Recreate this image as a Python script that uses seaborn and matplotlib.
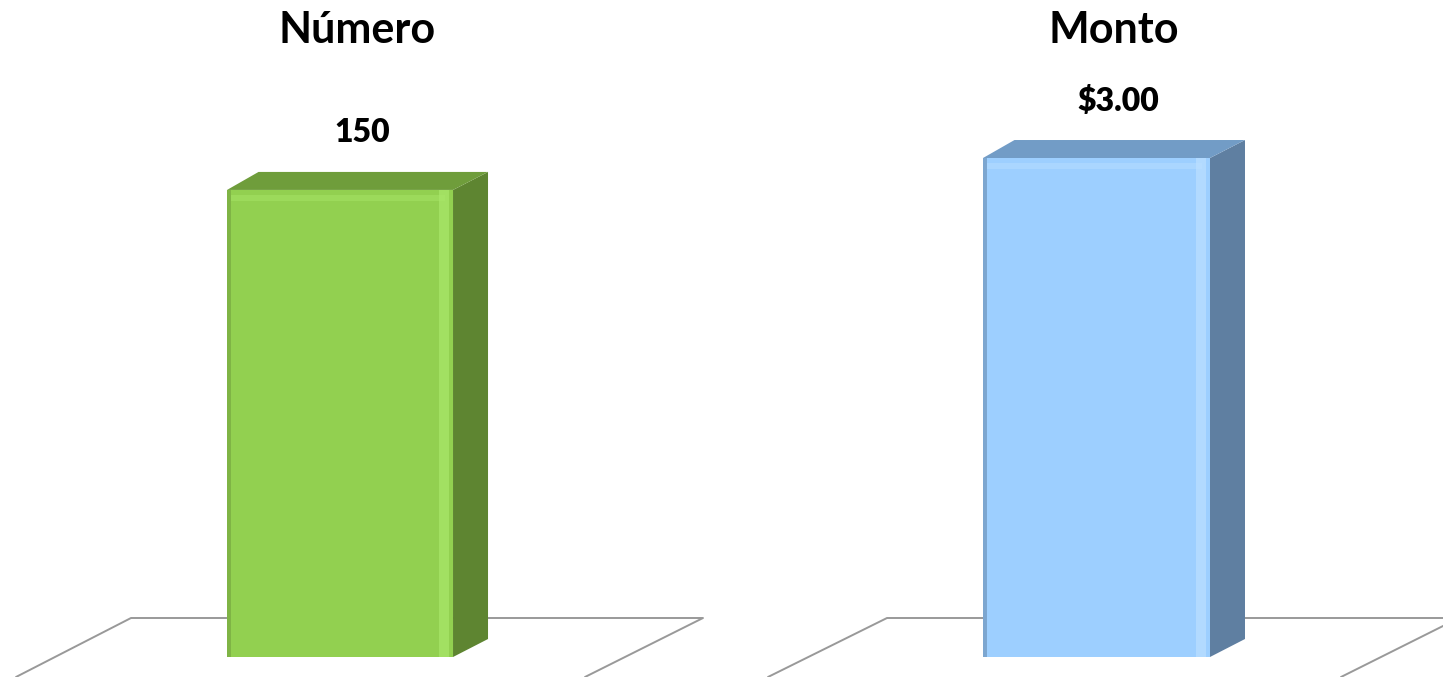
import matplotlib
matplotlib.use("Agg")
import matplotlib.pyplot as plt
import seaborn as sns
import pandas as pd
from matplotlib.patches import Polygon, Rectangle
from matplotlib.lines import Line2D

# ---- data ----
panel_titles = ["Número", "Monto"]
categories = ["Total"]
numero_values = [150]
monto_values = [3.00]
value_labels = ["150", "$3.00"]
ymax_values = [211.0, 3.95]

front_colors = ["#92D050", "#9DCFFF"]
side_colors = ["#5E8531", "#5F7FA1"]
top_colors = ["#6F9D3B", "#729CC6"]
light_colors = ["#AAE86A", "#BCE0FF"]
dark_edge = ["#6E9A3C", "#5C7EA3"]

W, H = 1443, 677
DPI = 100
sns.set_theme(style="white")
plt.rcParams["font.family"] = ["Lato", "DejaVu Sans"]

fig = plt.figure(figsize=(W / DPI, H / DPI), dpi=DPI)
fig.patch.set_facecolor("white")


def px(x, y):
    return x / W, 1 - y / H


# axes geometry (in pixels): x-span and x-limits
axes_spans = [(0, 721), (721, 1443)]
xlims = [(-0.6018, 0.6743), (-0.6617, 0.6106)]
bottom_px = 657
series = [numero_values, monto_values]

# floor parallelograms (decoration)
floors = [
    [(16, 677), (131, 618), (703, 618), (585, 677)],
    [(768, 677), (887, 618), (1459, 618), (1341, 677)],
]
for fl in floors:
    xs = [px(*p)[0] for p in fl]
    ys = [px(*p)[1] for p in fl]
    fig.add_artist(Line2D(xs, ys, color="#999999", lw=1.4, zorder=0))

DX, DY = 35, 18  # depth offset in pixels

for i in range(2):
    x0p, x1p = axes_spans[i]
    ax = fig.add_axes([x0p / W, (H - bottom_px) / H, (x1p - x0p) / W, bottom_px / H])
    ax.patch.set_alpha(0)
    df = pd.DataFrame({"cat": categories, "val": series[i]})
    sns.barplot(data=df, x="cat", y="val", ax=ax, color=front_colors[i],
                width=0.4, saturation=1, edgecolor="none", linewidth=0, zorder=3)
    ax.set_xlim(*xlims[i])
    ax.set_ylim(0, ymax_values[i])
    ax.axis("off")

    # pixel -> data scale
    o = ax.transData.transform((0, 0))
    ux = ax.transData.transform((1, 0))[0] - o[0]
    uy = ax.transData.transform((0, 1))[1] - o[1]
    ddx, ddy = DX / ux, DY / uy

    bar = ax.patches[0]
    bx0 = bar.get_x()
    bw = bar.get_width()
    bx1 = bx0 + bw
    h = bar.get_height()

    # side face
    ax.add_patch(Polygon([(bx1, 0), (bx1, h), (bx1 + ddx, h + ddy), (bx1 + ddx, ddy)],
                         closed=True, facecolor=side_colors[i], edgecolor="none", zorder=2))
    # top face
    ax.add_patch(Polygon([(bx0, h), (bx0 + ddx * 0.9, h + ddy), (bx1 + ddx, h + ddy), (bx1, h)],
                         closed=True, facecolor=top_colors[i], edgecolor="none", zorder=2))
    # bevel highlights on front face
    ax.add_patch(Rectangle((bx1 - 14 / ux, 0), 10 / ux, h, facecolor=light_colors[i],
                           edgecolor="none", alpha=0.7, zorder=4))
    ax.add_patch(Rectangle((bx0 + 4 / ux, h - 11 / uy), bw - 12 / ux, 6 / uy, facecolor=light_colors[i],
                           edgecolor="none", alpha=0.45, zorder=4))
    ax.add_patch(Rectangle((bx0, 0), 4 / ux, h, facecolor=dark_edge[i],
                           edgecolor="none", alpha=0.5, zorder=4))

    # value label
    ax.annotate(value_labels[i], xy=(bx0 + bw / 2, h), xycoords="data",
                xytext=(22 * 72 / DPI, 57 * 72 / DPI), textcoords="offset points",
                ha="center", va="center", fontsize=23, fontweight="heavy",
                color="black", annotation_clip=False)

    # title
    cx = (bx0 + bw / 2) * ux + o[0]
    fig.text((cx + 17) / W, 1 - 30 / H, panel_titles[i], ha="center", va="center",
             fontsize=31, fontweight="bold", color="black")

fig.savefig("out.png", dpi=DPI, facecolor="white")
